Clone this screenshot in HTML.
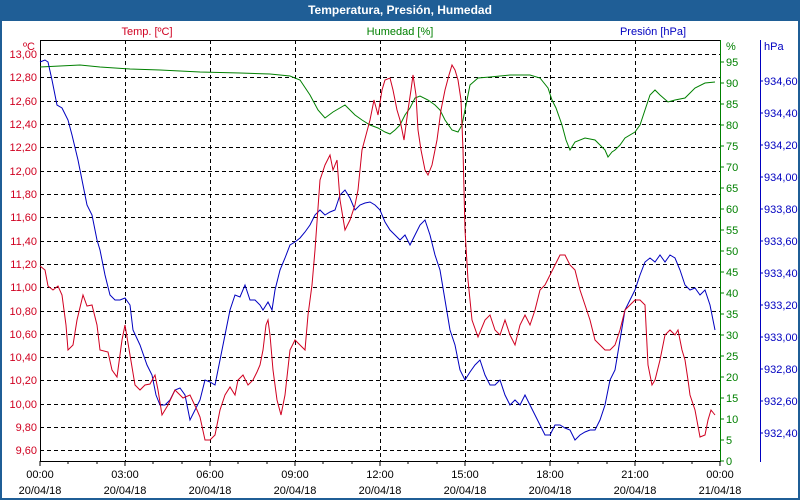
<!DOCTYPE html>
<html><head><meta charset="utf-8"><style>
html,body{margin:0;padding:0;background:#fff}
svg{display:block}
text{font-family:"Liberation Sans","DejaVu Sans",sans-serif;font-size:11px}
</style></head><body>
<svg width="800" height="500" xmlns="http://www.w3.org/2000/svg">
<rect x="0" y="0" width="800" height="500" fill="#fff"/>
<rect x="0" y="0" width="800" height="21" fill="#1f5e96"/>
<rect x="0" y="0" width="2" height="500" fill="#1f5e96"/>
<rect x="798" y="0" width="2" height="500" fill="#1f5e96"/>
<rect x="0" y="498" width="800" height="2" fill="#1f5e96"/>
<text x="400" y="14" fill="#fff" text-anchor="middle" font-weight="bold" style="font-size:12px">Temperatura, Presión, Humedad</text>
<text x="147" y="35" fill="#d00020" text-anchor="middle">Temp. [ºC]</text>
<text x="400" y="35" fill="#008000" text-anchor="middle">Humedad [%]</text>
<text x="653" y="35" fill="#0000c0" text-anchor="middle">Presión [hPa]</text>
<text x="35" y="50" fill="#d00020" text-anchor="end">ºC</text>
<text x="726" y="50" fill="#008000">%</text>
<text x="764" y="50" fill="#0000c0">hPa</text>
<g stroke="#000" stroke-dasharray="4,3" stroke-width="1">
<line x1="125.5" y1="40" x2="125.5" y2="461"/><line x1="210.5" y1="40" x2="210.5" y2="461"/><line x1="295.5" y1="40" x2="295.5" y2="461"/><line x1="380.5" y1="40" x2="380.5" y2="461"/><line x1="465.5" y1="40" x2="465.5" y2="461"/><line x1="550.5" y1="40" x2="550.5" y2="461"/><line x1="635.5" y1="40" x2="635.5" y2="461"/>
<line x1="40" y1="54.5" x2="720" y2="54.5"/><line x1="40" y1="77.5" x2="720" y2="77.5"/><line x1="40" y1="101.5" x2="720" y2="101.5"/><line x1="40" y1="124.5" x2="720" y2="124.5"/><line x1="40" y1="147.5" x2="720" y2="147.5"/><line x1="40" y1="171.5" x2="720" y2="171.5"/><line x1="40" y1="194.5" x2="720" y2="194.5"/><line x1="40" y1="217.5" x2="720" y2="217.5"/><line x1="40" y1="241.5" x2="720" y2="241.5"/><line x1="40" y1="264.5" x2="720" y2="264.5"/><line x1="40" y1="287.5" x2="720" y2="287.5"/><line x1="40" y1="311.5" x2="720" y2="311.5"/><line x1="40" y1="334.5" x2="720" y2="334.5"/><line x1="40" y1="357.5" x2="720" y2="357.5"/><line x1="40" y1="380.5" x2="720" y2="380.5"/><line x1="40" y1="404.5" x2="720" y2="404.5"/><line x1="40" y1="427.5" x2="720" y2="427.5"/><line x1="40" y1="450.5" x2="720" y2="450.5"/>
</g>
<line x1="40" y1="40.5" x2="720" y2="40.5" stroke="#000"/>
<line x1="40.5" y1="40" x2="40.5" y2="461" stroke="#000"/>
<line x1="40" y1="461.5" x2="720" y2="461.5" stroke="#000"/>
<line x1="720.5" y1="40" x2="720.5" y2="462" stroke="#008000"/>
<line x1="760.5" y1="40" x2="760.5" y2="462" stroke="#0000c0"/>
<g fill="#d00020" text-anchor="end">
<text x="37" y="58">13,00</text><text x="37" y="81">12,80</text><text x="37" y="105">12,60</text><text x="37" y="128">12,40</text><text x="37" y="151">12,20</text><text x="37" y="175">12,00</text><text x="37" y="198">11,80</text><text x="37" y="221">11,60</text><text x="37" y="245">11,40</text><text x="37" y="268">11,20</text><text x="37" y="291">11,00</text><text x="37" y="315">10,80</text><text x="37" y="338">10,60</text><text x="37" y="361">10,40</text><text x="37" y="384">10,20</text><text x="37" y="408">10,00</text><text x="37" y="431">9,80</text><text x="37" y="454">9,60</text>
</g>
<g fill="#008000" stroke="none">
<text x="726" y="465">0</text><text x="726" y="444">5</text><text x="726" y="423">10</text><text x="726" y="402">15</text><text x="726" y="381">20</text><text x="726" y="360">25</text><text x="726" y="339">30</text><text x="726" y="318">35</text><text x="726" y="297">40</text><text x="726" y="276">45</text><text x="726" y="255">50</text><text x="726" y="234">55</text><text x="726" y="213">60</text><text x="726" y="192">65</text><text x="726" y="171">70</text><text x="726" y="150">75</text><text x="726" y="129">80</text><text x="726" y="108">85</text><text x="726" y="87">90</text><text x="726" y="66">95</text>
</g>
<g stroke="#008000"><path d="M720 461h4M720 440h4M720 419h4M720 398h4M720 377h4M720 356h4M720 335h4M720 314h4M720 293h4M720 272h4M720 251h4M720 230h4M720 209h4M720 188h4M720 167h4M720 146h4M720 125h4M720 104h4M720 83h4M720 62h4"/></g>
<g fill="#0000c0">
<text x="764" y="85">934,60</text><text x="764" y="117">934,40</text><text x="764" y="149">934,20</text><text x="764" y="181">934,00</text><text x="764" y="213">933,80</text><text x="764" y="245">933,60</text><text x="764" y="277">933,40</text><text x="764" y="309">933,20</text><text x="764" y="341">933,00</text><text x="764" y="373">932,80</text><text x="764" y="405">932,60</text><text x="764" y="437">932,40</text>
</g>
<g stroke="#0000c0"><path d="M760 81h3M760 113h3M760 145h3M760 177h3M760 209h3M760 241h3M760 273h3M760 305h3M760 337h3M760 369h3M760 401h3M760 433h3"/></g>
<g stroke="#000"><path d="M40 461v5M68 461v3M97 461v3M125 461v5M153 461v3M182 461v3M210 461v5M238 461v3M267 461v3M295 461v5M323 461v3M352 461v3M380 461v5M408 461v3M437 461v3M465 461v5M493 461v3M522 461v3M550 461v5M578 461v3M607 461v3M635 461v5M663 461v3M692 461v3M720 461v5"/></g>
<g fill="#000" text-anchor="middle">
<text x="40" y="478">00:00</text><text x="40" y="494">20/04/18</text>
<text x="125" y="478">03:00</text><text x="125" y="494">20/04/18</text>
<text x="210" y="478">06:00</text><text x="210" y="494">20/04/18</text>
<text x="295" y="478">09:00</text><text x="295" y="494">20/04/18</text>
<text x="380" y="478">12:00</text><text x="380" y="494">20/04/18</text>
<text x="465" y="478">15:00</text><text x="465" y="494">20/04/18</text>
<text x="550" y="478">18:00</text><text x="550" y="494">20/04/18</text>
<text x="635" y="478">21:00</text><text x="635" y="494">20/04/18</text>
<text x="720" y="478">00:00</text><text x="720" y="494">21/04/18</text>
</g>
<polyline fill="none" stroke="#008000" points="40,67 60,66 80,65 100,67 130,69 160,70 200,72 240,73 270,74 290,76 300,80 310,95 318,110 325,118 333,112 345,105 355,115 362,120 370,125 378,128 385,132 390,134 395,130 400,125 405,115 410,108 415,98 420,96 428,100 435,105 440,110 445,120 452,130 458,132 462,125 465,110 470,85 478,78 490,77 510,75 530,75 540,78 548,88 552,100 556,108 562,125 566,140 570,150 575,142 585,138 595,140 600,145 605,150 608,157 612,152 615,150 620,145 625,138 635,132 640,125 645,110 650,95 655,90 660,95 668,102 675,100 685,98 695,88 705,83 715,82"/>
<polyline fill="none" stroke="#0000c0" points="40,62 45,60 48,62 52,80 57,105 62,108 68,120 72,135 78,160 82,180 87,205 92,215 97,240 100,250 105,275 110,295 115,300 120,300 125,298 130,305 133,330 140,345 147,365 152,375 156,395 160,405 165,405 170,400 175,390 180,388 185,395 190,420 195,410 200,400 205,380 210,382 215,385 220,360 225,335 230,310 235,295 240,297 245,285 250,300 255,300 260,305 263,310 268,302 272,310 275,290 280,270 285,258 290,245 295,242 300,238 305,232 310,225 315,215 320,210 325,215 330,212 335,210 340,195 345,190 350,198 355,210 360,205 365,203 370,202 375,205 380,210 385,222 390,230 395,235 400,240 405,235 410,245 415,235 420,225 425,220 430,235 435,255 440,270 445,300 450,330 455,345 460,370 465,380 470,372 475,365 480,360 485,375 490,385 495,385 500,380 505,395 510,405 515,400 520,405 525,395 530,405 535,415 540,425 545,435 550,435 555,425 560,425 565,428 570,430 575,440 580,435 585,432 590,430 595,430 600,420 605,405 610,380 615,370 620,340 625,310 630,300 635,290 640,275 645,262 650,258 655,262 660,255 665,262 670,255 675,258 680,270 685,285 690,290 695,288 700,295 705,290 710,305 715,330"/>
<polyline fill="none" stroke="#d00020" points="40,266 45,270 48,286 53,290 58,286 62,295 66,325 68,350 73,345 77,320 83,295 87,306 92,305 97,325 100,350 108,352 112,370 117,377 122,340 125,325 130,355 135,385 140,390 145,385 150,384 155,375 158,390 162,415 168,405 175,390 183,398 190,395 197,410 200,417 205,440 210,440 215,435 220,410 225,395 230,387 235,395 238,380 243,375 248,385 253,380 257,372 260,365 263,350 266,325 268,320 270,335 273,370 277,400 281,415 285,395 290,350 295,340 300,345 305,350 308,315 312,285 315,250 320,180 325,165 330,155 333,170 337,160 340,200 345,230 350,220 355,205 358,190 362,150 366,135 370,120 374,100 378,115 382,90 385,80 390,78 393,90 397,110 400,120 404,140 408,110 411,90 413,75 416,95 418,130 421,150 425,170 428,175 432,165 437,140 441,110 445,90 449,75 452,65 455,70 458,80 461,100 463,150 465,230 468,280 472,320 478,337 485,320 490,315 495,330 500,335 505,320 510,335 515,345 520,325 525,315 530,325 535,310 540,290 545,285 550,275 555,265 560,255 565,255 570,265 575,270 580,290 585,305 590,320 595,340 600,345 605,350 610,350 615,345 620,330 625,310 630,305 635,300 640,300 645,305 648,365 652,385 655,380 660,360 665,335 670,330 675,335 678,330 682,350 685,360 688,380 690,395 695,410 700,437 705,435 708,420 711,410 715,415"/>
</svg>
</body></html>
